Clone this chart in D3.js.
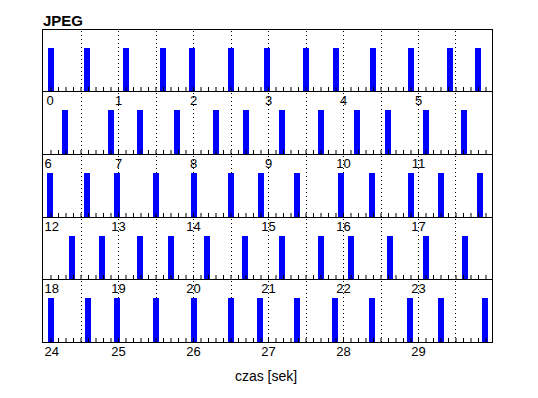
<!DOCTYPE html>
<html>
<head>
<meta charset="utf-8">
<script src="https://cdn.jsdelivr.net/npm/d3@7/dist/d3.min.js"></script>
<style>
	body { margin: 0; background: #fff; }
	svg text { font-family: "Liberation Sans", Arial, sans-serif; }
</style>
</head>
<body>
<script>
// seconds covered by each strip
var rowStarts = [0, 6, 12, 18, 24];
var rowSpan = 6;

// time stamps [s] of the JPEG frames
var frameTimes = [
	0.10, 0.59, 1.10, 1.60, 1.99, 2.51, 2.99, 3.51, 3.90, 4.40, 4.90, 5.42, 5.80,
	6.29, 6.90, 7.29, 7.79, 8.31, 8.71, 9.19, 9.71, 10.19, 10.60, 11.10, 11.61,
	12.10, 12.59, 12.99, 13.51, 14.01, 14.51, 14.91, 15.39, 15.97, 16.39, 16.91, 17.31, 17.82,
	18.39, 18.79, 19.29, 19.71, 20.19, 20.70, 21.19, 21.70, 22.10, 22.62, 23.11, 23.62,
	24.10, 24.60, 24.99, 25.50, 26.01, 26.50, 26.89, 27.39, 27.90, 28.39, 28.90, 29.31, 29.90
];
var frameLevel = 0.7;

var title = "JPEG";
var xLabel = "czas [sek]";

var W = 538, H = 398;
var plotLeft = 43, plotRight = 493, plotTop = 28.5, plotBottom = 342;

var svg = d3.select("body").append("svg").attr("width", W).attr("height", H);

var x = d3.scaleLinear().domain([0, rowSpan]).range([plotLeft, plotRight]);
// strip index -> vertical position of its upper edge
var rowY = d3.scaleLinear().domain([0, rowStarts.length]).range([plotTop, plotBottom]);

var minorTicks = d3.range(1, rowSpan * 10).map(function(i){ return i / 10; });
var dotLines = d3.range(1, rowSpan * 2).map(function(i){ return i / 2; });

rowStarts.forEach(function(start, r) {
	var y0 = Math.round(rowY(r)), y1 = Math.round(rowY(r + 1));
	var h = y1 - y0;
	var y = d3.scaleLinear().domain([0, 1]).range([h, 0]);
	var g = svg.append("g").attr("transform", "translate(0," + y0 + ")");

	// dotted grid every half second
	g.selectAll("line.grid").data(dotLines).enter().append("line")
		.attr("class", "grid")
		.attr("x1", function(d){ return Math.round(x(d)) + 0.5; })
		.attr("x2", function(d){ return Math.round(x(d)) + 0.5; })
		.attr("y1", 2).attr("y2", h)
		.attr("stroke", "#000").attr("stroke-width", 1)
		.attr("stroke-dasharray", "1,3");

	// frames in this strip
	var frames = frameTimes.filter(function(t){ return t >= start && t < start + rowSpan; });
	g.selectAll("rect.bar").data(frames).enter().append("rect")
		.attr("class", "bar")
		.attr("x", function(t){ return Math.round(x(t - start) - 3); })
		.attr("width", 6)
		.attr("y", Math.round(y(frameLevel)))
		.attr("height", h - Math.round(y(frameLevel)))
		.attr("fill", "#0000ff");

	// minor ticks every 0.1 s
	var minorAxis = d3.axisBottom(x).tickValues(minorTicks).tickSize(-4).tickFormat("");
	var ma = g.append("g").attr("transform", "translate(0," + h + ")").call(minorAxis);
	ma.select(".domain").remove();
	ma.selectAll("line").attr("stroke", "#000");

	// second labels
	var labelAxis = d3.axisBottom(x).tickValues(d3.range(0, rowSpan)).tickSize(0)
		.tickFormat(function(d){ return d + start; });
	var la = g.append("g").attr("transform", "translate(0," + h + ")").call(labelAxis);
	la.select(".domain").remove();
	la.selectAll("text")
		.attr("font-size", 13)
		.attr("font-family", "Liberation Sans, Arial, sans-serif")
		.attr("fill", "#000")
		.attr("dy", null)
		.attr("y", 14);
	la.selectAll(".tick").filter(function(d){ return d === 0; }).select("text")
		.attr("text-anchor", "start").attr("x", start === 0 ? 3 : 1);

	// frame of the strip (shares its edge with the next strip)
	g.append("rect")
		.attr("x", plotLeft - 0.5).attr("y", 0.5)
		.attr("width", plotRight - plotLeft).attr("height", h)
		.attr("fill", "none").attr("stroke", "#000").attr("stroke-width", 1);
});

svg.append("text")
	.attr("x", plotLeft).attr("y", 25.5)
	.attr("font-size", 15).attr("font-weight", "bold")
	.text(title);

svg.append("text")
	.attr("x", (plotLeft + plotRight) / 2 - 2).attr("y", 380.5)
	.attr("text-anchor", "middle")
	.attr("font-size", 14)
	.text(xLabel);
</script>
</body>
</html>
